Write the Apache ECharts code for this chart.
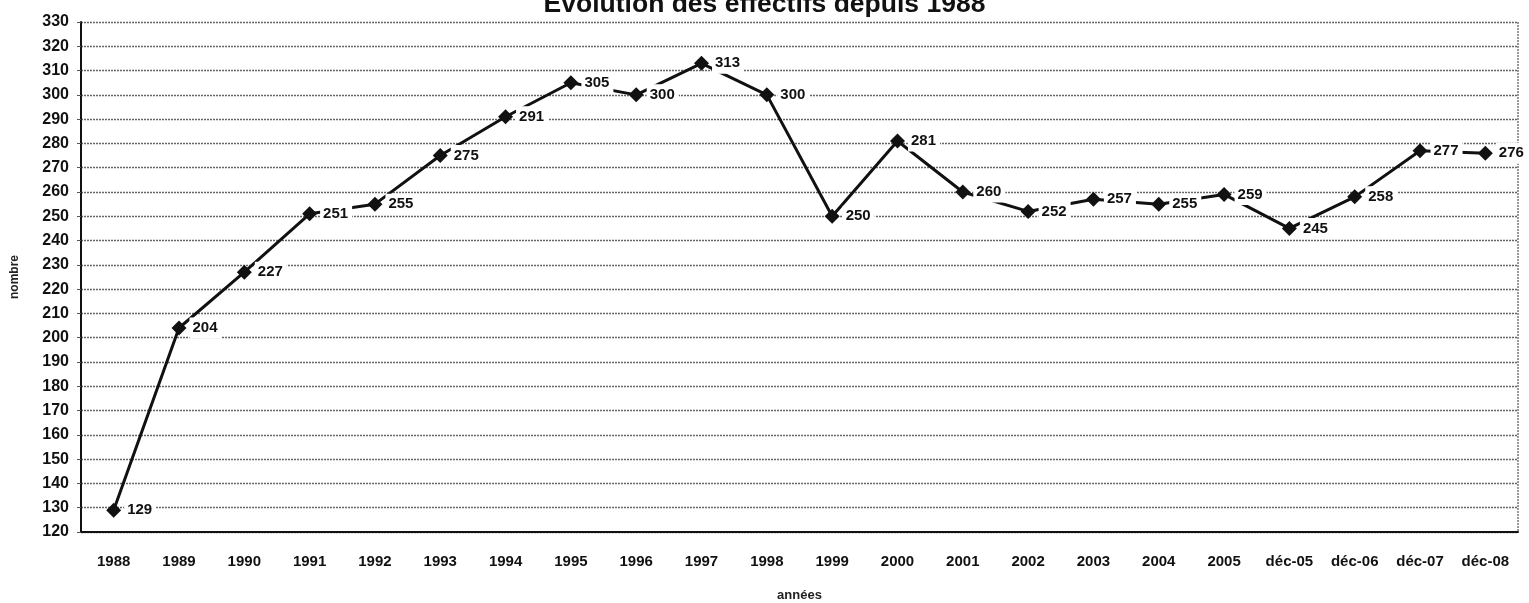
<!DOCTYPE html>
<html><head><meta charset="utf-8">
<script src="https://cdn.jsdelivr.net/npm/echarts@6/dist/echarts.min.js"></script>
<style>html,body{margin:0;padding:0;background:#fff}#c{width:1529px;height:603px}</style>
</head><body><div id="c"></div>
<script>
const categories = ['1988','1989','1990','1991','1992','1993','1994','1995','1996','1997','1998','1999','2000','2001','2002','2003','2004','2005','déc-05','déc-06','déc-07','déc-08'];
const values = [129,204,227,251,255,275,291,305,300,313,300,250,281,260,252,257,255,259,245,258,277,276];
const titleText = 'Evolution des effectifs depuis 1988';
const yName = 'nombre';
const xName = 'années';

const chart = echarts.init(document.getElementById('c'));
const font = 'Liberation Sans, Arial, sans-serif';
chart.setOption({
  animation:false,
  backgroundColor:'#fff',
  title:{text:titleText,left:'center',top:-14,textStyle:{fontFamily:font,fontSize:26.5,fontWeight:'bold',color:'#111'}},
  grid:{left:81,right:11,top:22,bottom:71,outerBoundsMode:'none',containLabel:false},
  xAxis:{type:'category',data:categories,boundaryGap:true,
    name:xName,nameLocation:'middle',nameGap:57,
    nameTextStyle:{fontFamily:font,fontSize:13,fontWeight:'bold',color:'#222'},
    axisLine:{lineStyle:{color:'#111',width:2}},
    axisTick:{show:false},
    axisLabel:{fontFamily:font,fontSize:15,fontWeight:'bold',color:'#111',margin:22,interval:0}},
  yAxis:{type:'value',min:120,max:330,interval:10,
    name:yName,nameLocation:'middle',nameGap:60,
    nameTextStyle:{fontFamily:font,fontSize:12,fontWeight:'bold',color:'#222'},
    axisLine:{show:true,lineStyle:{color:'#111',width:2}},
    axisTick:{show:true,length:4,lineStyle:{color:'#555'}},
    axisLabel:{fontFamily:font,fontSize:16,fontWeight:'bold',color:'#111',margin:12},
    splitLine:{lineStyle:{color:'#666',width:1.3,type:[2,1]}}},
  series:[{type:'line',data:values,symbol:'diamond',symbolSize:15,
    lineStyle:{color:'#111',width:3},itemStyle:{color:'#111'},
    label:{show:true,position:'right',distance:3,fontFamily:font,fontSize:15,fontWeight:'bold',color:'#111',
      backgroundColor:'#fff',padding:[3,4,3,3]}}]
});
chart.setOption({graphic:[{type:'line',shape:{x1:1518,y1:22,x2:1518,y2:532},style:{stroke:'#777',lineWidth:1.5,lineDash:[2,1]}}]});
</script></body></html>
